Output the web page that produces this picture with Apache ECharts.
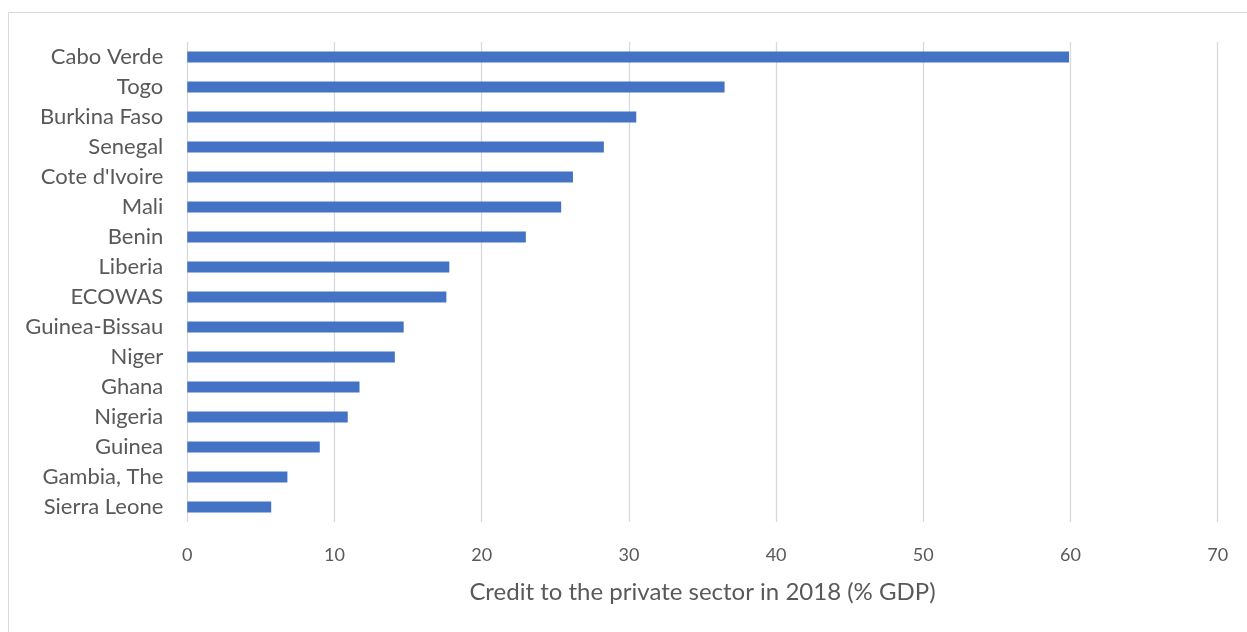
<!DOCTYPE html>
<html>
<head>
<meta charset="utf-8">
<script src="https://cdn.jsdelivr.net/npm/echarts@6/dist/echarts.min.js"></script>
<style>
html,body{margin:0;padding:0;background:#fff;}
#chart{width:1247px;height:632px;}
</style>
</head>
<body>
<div id="chart"></div>
<script>
const categories = ["Cabo Verde","Togo","Burkina Faso","Senegal","Cote d'Ivoire","Mali","Benin","Liberia","ECOWAS","Guinea-Bissau","Niger","Ghana","Nigeria","Guinea","Gambia, The","Sierra Leone"];
const values = [59.9,36.5,30.5,28.3,26.2,25.4,23.0,17.8,17.6,14.7,14.1,11.7,10.9,9.0,6.8,5.7];
const xTicks = [0,10,20,30,40,50,60,70];
const axisTitle = "Credit to the private sector in 2018 (% GDP)";

const FONT = "Lato, 'Open Sans', sans-serif";
const chart = echarts.init(document.getElementById('chart'), null, {renderer:'canvas'});
chart.setOption({
  animation:false,
  backgroundColor:'#ffffff',
  graphic:[{type:'rect',shape:{x:8.5,y:12.5,width:1400,height:800},style:{fill:'none',stroke:'#d9d9d9',lineWidth:1},silent:true,z:-10}],
  grid:{left:187.3,right:29.3,top:42,bottom:110,containLabel:false},
  xAxis:{
    type:'value',min:xTicks[0],max:xTicks[xTicks.length-1],interval:10,
    axisLine:{show:false},axisTick:{show:false},
    splitLine:{show:true,lineStyle:{color:'#d9d9d9',width:1.3}},
    axisLabel:{color:'#595959',fontSize:18,fontFamily:FONT,margin:24},
    name:axisTitle,nameLocation:'middle',nameGap:58,
    nameTextStyle:{color:'#595959',fontSize:24,fontFamily:FONT}
  },
  yAxis:{
    type:'category',data:categories,inverse:true,
    axisLine:{show:false},axisTick:{show:false},
    axisLabel:{color:'#595959',fontSize:22,fontFamily:FONT,margin:24}
  },
  series:[{type:'bar',data:values,barWidth:11,itemStyle:{color:'#4472c4'}}]
});
</script>
</body>
</html>
